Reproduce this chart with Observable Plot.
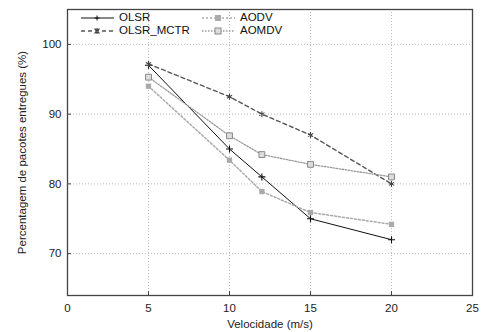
<!DOCTYPE html>
<html>
<head>
<meta charset="utf-8">
<script src="https://cdn.jsdelivr.net/npm/d3@7"></script>
<script src="https://cdn.jsdelivr.net/npm/@observablehq/plot@0.6"></script>
<style>
  body { margin: 0; background: #fff; }
  #wrap { position: relative; width: 484px; height: 332px; font-family: "Liberation Sans", Arial, sans-serif; }
  #legend { position: absolute; left: 81px; top: 9px; font-size: 11.5px; color: #111; }
  .row { position: absolute; white-space: nowrap; height: 14px; line-height: 14px; }
  .row svg { vertical-align: middle; margin-right: 5px; }
</style>
</head>
<body>
<div id="wrap"><div id="legend"></div></div>
<script>
const speeds = [5, 10, 12, 15, 20];
const olsr = [97, 85, 81, 75, 72];
const olsrMctr = [97.2, 92.5, 90, 87, 80];
const aodv = [94, 83.4, 78.9, 75.9, 74.2];
const aomdv = [95.3, 86.9, 84.2, 82.8, 81];
const xTicks = [0, 5, 10, 15, 20, 25];
const yTicks = [70, 80, 90, 100];

const seriesDefs = [
  {name: "OLSR", values: olsr, stroke: "#111", dash: null, width: 1, symbol: "plus", mfill: "none", mstroke: "#111", r: 2.4},
  {name: "OLSR_MCTR", values: olsrMctr, stroke: "#555", dash: "4,3", width: 1.4, symbol: "asterisk", mfill: "none", mstroke: "#444", r: 2.8},
  {name: "AODV", values: aodv, stroke: "#aaa", dash: "2,2", width: 1.5, symbol: "square", mfill: "#aaa", mstroke: "none", r: 3},
  {name: "AOMDV", values: aomdv, stroke: "#999", dash: "1.5,1.5", width: 1.3, symbol: "square", mfill: "#ddd", mstroke: "#888", r: 3.3}
];

const marks = [
  Plot.gridX(xTicks.slice(1, -1), {stroke: "#bbb", strokeOpacity: 1, strokeDasharray: "1,2"}),
  Plot.gridY(yTicks, {stroke: "#bbb", strokeOpacity: 1, strokeDasharray: "1,2"}),
];
for (const s of seriesDefs) {
  const data = speeds.map((x, i) => ({x, y: s.values[i]}));
  marks.push(Plot.line(data, {x: "x", y: "y", stroke: s.stroke, strokeWidth: s.width, strokeDasharray: s.dash}));
  marks.push(Plot.dot(data, {x: "x", y: "y", symbol: () => s.symbol, fill: s.mfill, stroke: s.mstroke, r: s.r, strokeWidth: s.symbol === "square" ? 1 : 1.1}));
}
marks.push(
  Plot.axisX({ticks: xTicks, tickSize: -4, tickPadding: 12, stroke: "#444", fontSize: 11.5, label: "Velocidade (m/s)", labelAnchor: "center", labelArrow: "none", labelOffset: 32}),
  Plot.axisY({ticks: yTicks, tickSize: -4, tickPadding: 10, stroke: "#444", fontSize: 11.5, label: "Percentagem de pacotes entregues (%)", labelAnchor: "center", labelArrow: "none", labelOffset: 50}),
  Plot.frame({stroke: "#444", strokeWidth: 1.3})
);

const chart = Plot.plot({
  width: 484, height: 332,
  marginLeft: 67, marginRight: 12, marginTop: 9, marginBottom: 37,
  x: {domain: [0, 25]},
  y: {domain: [64, 105]},
  style: {fontFamily: "Liberation Sans, Arial, sans-serif", fontSize: "11.5px", color: "#222", background: "#fff"},
  marks
});
document.getElementById("wrap").prepend(chart);

// legend
const legend = document.getElementById("legend");
const symPath = {
  plus: (c) => `<line x1="16" y1="4.5" x2="16" y2="9.5" stroke="${c.mstroke}"/><line x1="13.5" y1="7" x2="18.5" y2="7" stroke="${c.mstroke}"/>`,
  asterisk: (c) => `<path d="M13.5,4.5L18.5,9.5M18.5,4.5L13.5,9.5M16,4V10" stroke="${c.mstroke}" stroke-width="1.1"/>`,
  square: (c) => `<rect x="13" y="4" width="6" height="6" fill="${c.mfill}" stroke="${c.mstroke}"/>`
};
const positions = [[0, 1], [0, 14], [121, 1], [121, 14]];
seriesDefs.forEach((s, i) => {
  const row = document.createElement("div");
  row.className = "row";
  row.style.left = positions[i][0] + "px";
  row.style.top = positions[i][1] + "px";
  row.innerHTML = `<svg width="33" height="14"><line x1="0" y1="7" x2="33" y2="7" stroke="${s.stroke}" stroke-width="${s.width}" ${s.dash ? `stroke-dasharray="${s.dash}"` : ""}/>${symPath[s.symbol](s)}</svg>${s.name}`;
  legend.appendChild(row);
});
</script>
</body>
</html>
